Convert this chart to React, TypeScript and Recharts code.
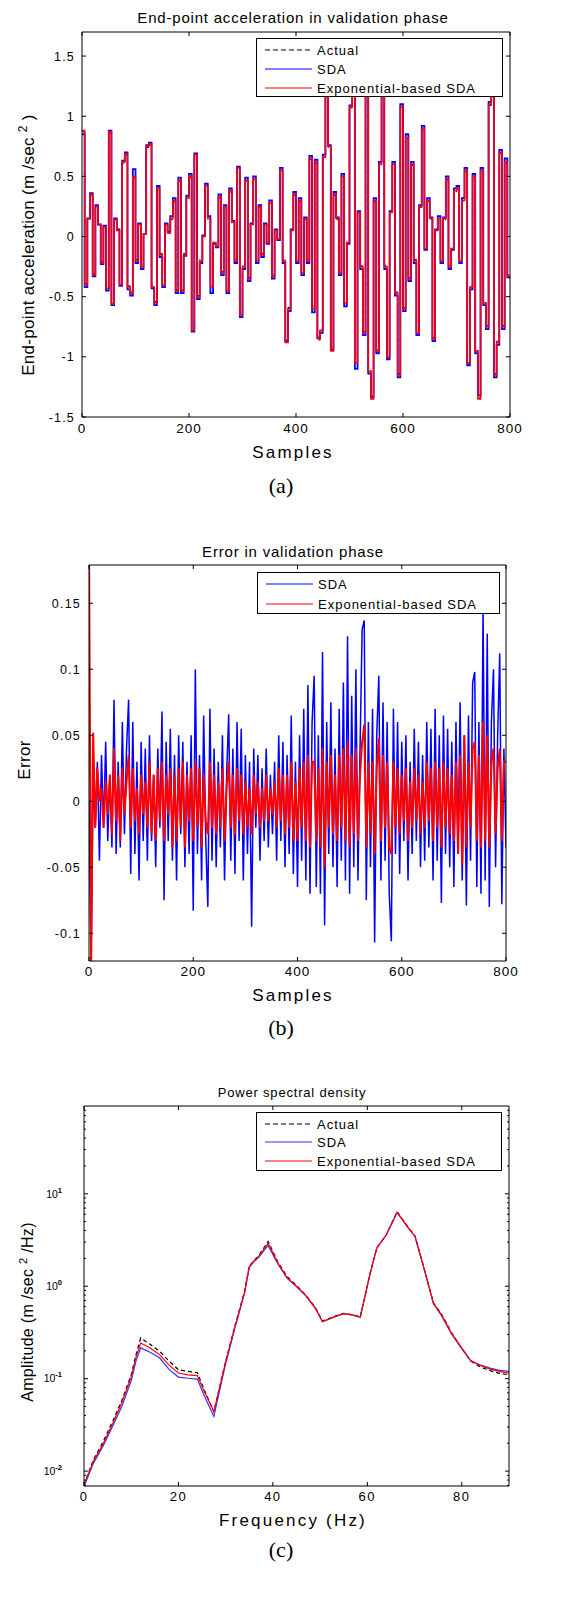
import React from 'react';
import { LineChart, Line, XAxis, YAxis } from 'recharts';

const FONT = '"Liberation Sans", Arial, Helvetica, sans-serif';
const SERIF = '"Liberation Serif", "Times New Roman", serif';

// ---------- Panel (a): end-point acceleration, one value every 5 samples ----------
const aSampleStep = 5;
const aActual = [
  0.87, -0.39, 0.14, 0.34, -0.31, 0.24, 0.1, -0.21, 0.08, -0.42,
  0.86, -0.55, 0.14, 0.05, -0.39, 0.61, 0.68, -0.41, -0.46, 0.49,
  -0.19, 0.1, -0.24, 0.02, 0.74, 0.76, -0.41, -0.54, 0.39, -0.14,
  -0.39, 0.1, 0.03, 0.14, 0.29, -0.44, 0.46, -0.44, -0.14, 0.31,
  0.49, -0.76, 0.67, -0.49, -0.19, 0.0, 0.41, 0.14, -0.41, -0.05,
  -0.08, 0.32, -0.29, 0.24, -0.44, 0.37, 0.12, -0.19, 0.56, -0.63,
  -0.24, 0.46, -0.34, 0.1, 0.47, -0.19, 0.24, -0.14, 0.1, -0.05,
  0.27, -0.32, 0.05, -0.02, 0.54, -0.19, -0.86, -0.59, 0.05, 0.34,
  -0.19, 0.29, -0.29, 0.14, -0.19, 0.64, -0.58, 0.61, -0.86, -0.77,
  0.65, 1.34, 0.74, -0.94, 0.34, 0.14, -0.29, 0.49, -0.54, -0.05,
  1.07, 1.29, -1.04, 0.2, -0.24, -0.79, 1.34, -1.11, -1.34, 0.29,
  -0.94, 0.59, 1.34, -0.24, -0.99, 0.2, 0.59, -0.46, -1.14, 1.07,
  -0.59, 0.81, -0.34, 0.59, -0.19, -0.79, 0.24, 0.89, -0.1, 0.29,
  0.14, -0.84, 0.05, 0.14, -0.19, 0.14, 0.47, -0.24, -0.1, 0.37,
  0.39, -0.19, 0.29, 0.54, -1.04, -0.41, 0.49, -0.94, -1.34, 0.54,
  -0.54, -0.74, 1.09, 1.29, -1.14, -0.87, 0.69, -0.74, 0.61, -0.32,
  -0.34,
];
const aSDA = [
  0.85, -0.42, 0.15, 0.36, -0.33, 0.26, 0.1, -0.23, 0.09, -0.45,
  0.88, -0.57, 0.15, 0.06, -0.41, 0.63, 0.7, -0.44, -0.49, 0.56,
  -0.22, 0.11, -0.27, 0.02, 0.76, 0.78, -0.43, -0.57, 0.42, -0.17,
  -0.42, 0.11, 0.04, 0.17, 0.32, -0.47, 0.49, -0.47, -0.16, 0.34,
  0.52, -0.79, 0.69, -0.52, -0.22, 0.01, 0.44, 0.17, -0.47, -0.06,
  -0.09, 0.35, -0.32, 0.26, -0.47, 0.4, 0.13, -0.22, 0.58, -0.67,
  -0.27, 0.49, -0.37, 0.11, 0.5, -0.22, 0.26, -0.17, 0.11, -0.06,
  0.3, -0.35, 0.06, -0.03, 0.57, -0.22, -0.87, -0.62, 0.06, 0.37,
  -0.22, 0.32, -0.32, 0.16, -0.22, 0.67, -0.63, 0.64, -0.84, -0.8,
  0.68, 1.33, 0.76, -0.94, 0.37, 0.16, -0.32, 0.52, -0.58, -0.06,
  1.09, 1.28, -1.1, 0.21, -0.27, -0.82, 1.33, -1.14, -1.33, 0.32,
  -0.97, 0.62, 1.33, -0.27, -1.02, 0.21, 0.62, -0.49, -1.17, 1.1,
  -0.62, 0.85, -0.37, 0.62, -0.22, -0.82, 0.26, 0.92, -0.11, 0.32,
  0.16, -0.87, 0.06, 0.17, -0.22, 0.16, 0.5, -0.27, -0.11, 0.4,
  0.42, -0.22, 0.32, 0.57, -1.07, -0.44, 0.52, -0.97, -1.32, 0.57,
  -0.57, -0.77, 1.12, 1.28, -1.17, -0.9, 0.72, -0.77, 0.65, -0.34,
  -0.35,
];
const aExp = [
  0.88, -0.4, 0.15, 0.35, -0.32, 0.25, 0.1, -0.22, 0.08, -0.43,
  0.87, -0.56, 0.14, 0.05, -0.4, 0.62, 0.69, -0.42, -0.47, 0.5,
  -0.2, 0.1, -0.25, 0.02, 0.75, 0.77, -0.42, -0.55, 0.4, -0.15,
  -0.4, 0.1, 0.03, 0.15, 0.3, -0.45, 0.47, -0.45, -0.15, 0.32,
  0.5, -0.78, 0.68, -0.5, -0.2, 0.0, 0.42, 0.15, -0.42, -0.05,
  -0.08, 0.33, -0.3, 0.25, -0.45, 0.38, 0.12, -0.2, 0.57, -0.65,
  -0.25, 0.47, -0.35, 0.1, 0.48, -0.2, 0.25, -0.15, 0.1, -0.05,
  0.28, -0.33, 0.05, -0.02, 0.55, -0.2, -0.88, -0.6, 0.05, 0.35,
  -0.2, 0.3, -0.3, 0.15, -0.2, 0.65, -0.6, 0.62, -0.85, -0.78,
  0.66, 1.35, 0.75, -0.95, 0.35, 0.15, -0.3, 0.5, -0.55, -0.05,
  1.08, 1.3, -1.05, 0.2, -0.25, -0.8, 1.35, -1.12, -1.35, 0.3,
  -0.95, 0.6, 1.35, -0.25, -1.0, 0.2, 0.6, -0.47, -1.15, 1.08,
  -0.6, 0.82, -0.35, 0.6, -0.2, -0.8, 0.25, 0.9, -0.1, 0.3,
  0.15, -0.85, 0.05, 0.15, -0.2, 0.15, 0.48, -0.25, -0.1, 0.38,
  0.4, -0.2, 0.3, 0.55, -1.05, -0.42, 0.5, -0.95, -1.35, 0.55,
  -0.55, -0.75, 1.1, 1.3, -1.15, -0.88, 0.7, -0.75, 0.62, -0.33,
  -0.35,
];
const aXTicks = [0, 200, 400, 600, 800];
const aYTicks = [-1.5, -1, -0.5, 0, 0.5, 1, 1.5];

// ---------- Panel (b): error, one value every 4 samples ----------
const bSampleStep = 4;
const bSDA = [
  0.0, -0.12, 0.02, -0.02, 0.03, -0.045, 0.035, -0.02, 0.045, -0.03,
  0.02, -0.035, 0.077, -0.04, 0.03, -0.035, 0.06, -0.025, 0.04, 0.077,
  -0.055, 0.06, -0.04, 0.03, -0.06, 0.045, -0.03, 0.04, -0.045, 0.05,
  -0.03, 0.02, -0.05, 0.04, -0.02, 0.068, -0.075, 0.045, -0.03, 0.055,
  -0.045, 0.035, -0.06, 0.05, -0.025, 0.045, -0.05, 0.03, -0.04, 0.05,
  -0.083, 0.1, -0.04, 0.035, -0.06, 0.065, -0.03, -0.08, 0.07, -0.045,
  0.04, -0.05, 0.03, -0.035, 0.05, -0.06, 0.02, 0.066, -0.045, 0.04,
  -0.055, 0.06, -0.03, 0.055, -0.06, 0.035, -0.04, 0.03, -0.095, 0.04,
  -0.02, 0.035, -0.045, 0.025, -0.03, 0.04, -0.035, 0.02, -0.025, 0.03,
  -0.045, 0.05, -0.03, 0.045, -0.05, 0.035, -0.04, 0.065, -0.055, 0.03,
  -0.065, 0.05, -0.045, 0.07, -0.06, 0.088, -0.07, 0.06, 0.095, -0.065,
  0.05, -0.07, 0.113, -0.094, 0.06, -0.04, 0.075, -0.05, 0.04, -0.065,
  0.07, -0.045, 0.09, -0.06, 0.125, -0.07, 0.08, -0.05, 0.1, -0.06,
  0.04, 0.13, 0.137, -0.075, 0.06, -0.05, 0.07, -0.107, 0.05, 0.095,
  -0.06, 0.075, -0.045, 0.06, -0.07, -0.106, 0.07, -0.04, 0.06, -0.055,
  0.045, -0.03, 0.05, -0.06, 0.03, -0.04, 0.055, -0.03, 0.045, -0.05,
  0.035, -0.045, 0.06, -0.035, 0.055, -0.06, 0.07, -0.045, 0.05, -0.077,
  0.065, -0.04, 0.055, -0.05, 0.045, -0.065, 0.06, -0.035, 0.075, -0.06,
  0.05, -0.079, 0.065, -0.045, 0.09, 0.098, -0.065, 0.06, -0.07, 0.145,
  -0.06, 0.127, -0.08, 0.06, 0.1, -0.05, 0.05, 0.112, -0.078, 0.04,
  -0.035,
];
const bExp = [
  0.2, -0.13, 0.052, -0.02, 0.025, 0.0, 0.01, -0.02, 0.015, -0.01,
  0.02, -0.025, 0.04, -0.015, 0.02, -0.03, 0.025, -0.01, 0.015, 0.035,
  -0.02, 0.025, -0.015, 0.01, -0.025, 0.02, -0.01, 0.015, -0.02, 0.03,
  -0.025, 0.02, -0.03, 0.025, -0.015, 0.03, -0.03, 0.02, -0.01, 0.025,
  -0.035, 0.02, -0.03, 0.025, -0.02, 0.03, -0.035, 0.02, -0.015, 0.025,
  -0.03, 0.03, -0.02, 0.025, -0.035, 0.02, -0.015, -0.025, 0.03, -0.02,
  0.02, -0.025, 0.015, -0.02, 0.025, -0.03, 0.01, 0.03, -0.02, 0.02,
  -0.025, 0.025, -0.015, 0.02, -0.025, 0.015, -0.02, 0.01, -0.025, 0.02,
  -0.01, 0.015, -0.02, 0.01, -0.015, 0.02, -0.015, 0.01, -0.01, 0.015,
  -0.02, 0.025, -0.015, 0.02, -0.025, 0.02, -0.02, 0.03, -0.03, 0.015,
  -0.03, 0.025, -0.02, 0.03, -0.03, 0.035, -0.035, 0.03, 0.03, -0.03,
  0.025, -0.035, 0.04, -0.05, 0.03, -0.02, 0.035, -0.025, 0.02, -0.03,
  0.035, -0.02, 0.04, -0.03, 0.045, -0.035, 0.035, -0.025, 0.04, -0.03,
  0.02, 0.045, 0.058, -0.035, 0.03, -0.025, 0.03, -0.04, 0.025, 0.048,
  -0.03, 0.035, -0.02, 0.03, -0.035, -0.04, 0.03, -0.02, 0.025, -0.025,
  0.02, -0.015, 0.025, -0.03, 0.015, -0.02, 0.025, -0.015, 0.02, -0.025,
  0.015, -0.02, 0.03, -0.015, 0.025, -0.03, 0.03, -0.02, 0.025, -0.035,
  0.03, -0.02, 0.025, -0.025, 0.02, -0.03, 0.03, -0.04, 0.035, -0.048,
  0.05, -0.035, 0.03, -0.02, 0.04, 0.045, -0.03, 0.035, -0.035, 0.06,
  -0.03, 0.05, -0.035, 0.03, 0.04, -0.025, 0.025, 0.04, -0.03, 0.03,
  0.03,
];
const bXTicks = [0, 200, 400, 600, 800];
const bYTicks = [-0.1, -0.05, 0, 0.05, 0.1, 0.15];

// ---------- Panel (c): power spectral density ----------
const cFreq = [
  0, 2, 4, 6, 8, 10, 11, 12, 14, 16, 18, 20, 22, 24, 25.5, 27.5, 30, 32, 34, 35,
  36, 37, 38, 39, 41, 43, 45, 47, 49, 50.5, 53, 55, 57, 58.5, 60.6, 62, 64, 66.3, 68.7, 70.1,
  71.9, 74, 75.7, 77.9, 79.8, 81.9, 83.8, 86, 88, 90,
];
const cActual = [
  0.0071, 0.0133, 0.0205, 0.034, 0.058, 0.11, 0.18, 0.275, 0.235, 0.198, 0.155, 0.125, 0.12, 0.116, 0.075, 0.044, 0.155, 0.38, 0.88, 1.65,
  1.9, 2.15, 2.55, 3.05, 1.85, 1.27, 1.02, 0.8, 0.59, 0.42, 0.47, 0.51, 0.49, 0.466, 1.39, 2.6, 3.6, 6.4, 4.3, 3.5,
  1.65, 0.66, 0.5, 0.31, 0.22, 0.155, 0.135, 0.122, 0.114, 0.11,
];
const cSDA = [
  0.0068, 0.0122, 0.0185, 0.03, 0.05, 0.095, 0.155, 0.215, 0.193, 0.168, 0.126, 0.104, 0.101, 0.099, 0.065, 0.039, 0.145, 0.36, 0.84, 1.6,
  1.85, 2.05, 2.4, 2.75, 1.76, 1.22, 0.99, 0.78, 0.575, 0.412, 0.465, 0.505, 0.487, 0.462, 1.38, 2.58, 3.58, 6.3, 4.25, 3.45,
  1.62, 0.65, 0.48, 0.3, 0.218, 0.155, 0.141, 0.13, 0.123, 0.12,
];
const cExp = [
  0.0071, 0.0128, 0.0195, 0.032, 0.055, 0.104, 0.17, 0.243, 0.215, 0.182, 0.14, 0.115, 0.11, 0.108, 0.072, 0.044, 0.152, 0.37, 0.86, 1.62,
  1.87, 2.1, 2.48, 2.92, 1.8, 1.24, 1.0, 0.79, 0.58, 0.415, 0.466, 0.505, 0.487, 0.462, 1.38, 2.58, 3.58, 6.3, 4.25, 3.45,
  1.63, 0.65, 0.49, 0.305, 0.222, 0.157, 0.14, 0.127, 0.12, 0.115,
];
const cXTicks = [0, 20, 40, 60, 80];
const cYMajor = [0.01, 0.1, 1, 10];
const cYMinorFactors = [2, 3, 4, 5, 6, 7, 8, 9];

// ---------- derived tables ----------
const aRows = aExp.map((v, i) => ({ s: i * aSampleStep, actual: aActual[i], sda: aSDA[i], exp: v }));
const bRows = bExp.map((v, i) => ({ s: i * bSampleStep, sda: bSDA[i], exp: v }));
const cRows = cFreq.map((f, i) => ({ f, actual: cActual[i], sda: cSDA[i], exp: cExp[i] }));
const cYDomain: [number, number] = [0.0069, 89];
const cYTicks: number[] = [];
[0.001, 0.01, 0.1, 1, 10].forEach((d) => {
  [1, ...cYMinorFactors].forEach((m) => {
    const v = +(d * m).toPrecision(3);
    if (v >= cYDomain[0] && v <= cYDomain[1]) cYTicks.push(v);
  });
});

type Side = 'left' | 'right' | 'top' | 'bottom';
interface TickOpts {
  len?: number;
  minorLen?: number;
  isMajor?: (v: number) => boolean;
  fmt?: (v: number) => React.ReactNode;
  fontSize?: number;
  gap?: number;
  ls?: number;
}
function tickRenderer(side: Side, o: TickOpts = {}) {
  return (props: any) => {
    const { x, y, payload } = props;
    const v = payload.value as number;
    const major = o.isMajor ? o.isMajor(v) : true;
    const len = major ? o.len ?? 4 : o.minorLen ?? 2;
    let c: number[];
    if (side === 'left') c = [x, y, x + len, y];
    else if (side === 'right') c = [x, y, x - len, y];
    else if (side === 'top') c = [x, y, x, y + len];
    else c = [x, y, x, y - len];
    const label = major && o.fmt ? o.fmt(v) : null;
    const fs = o.fontSize ?? 12;
    const gap = o.gap ?? 6;
    return (
      <g>
        <line x1={c[0]} y1={c[1]} x2={c[2]} y2={c[3]} stroke="#000" strokeWidth={1} />
        {label != null && side === 'left' && (
          <text x={x - gap} y={y} dy="0.36em" textAnchor="end" fontSize={fs} fontFamily={FONT} fill="#000" letterSpacing={o.ls ?? 0}>
            {label}
          </text>
        )}
        {label != null && side === 'bottom' && (
          <text x={x} y={y + gap} textAnchor="middle" fontSize={fs} fontFamily={FONT} fill="#000" letterSpacing={o.ls ?? 0}>
            {label}
          </text>
        )}
      </g>
    );
  };
}

const fmtNum = (v: number) => String(v);
const fmtPow = (v: number) => {
  const e = Math.round(Math.log10(v));
  return (
    <>
      <tspan>10</tspan>
      <tspan dy={-5} fontSize={7.5} fontWeight="bold">{String(e)}</tspan>
    </>
  );
};

const abs = (left: number, top: number, extra: React.CSSProperties = {}): React.CSSProperties => ({
  position: 'absolute',
  left,
  top,
  ...extra,
});

function CenterText(props: { x: number; y: number; size: number; ls?: number; family?: string; children: React.ReactNode }) {
  return (
    <div
      style={abs(props.x, props.y, {
        transform: 'translate(-50%, -50%)',
        whiteSpace: 'nowrap',
        fontFamily: props.family ?? FONT,
        fontSize: props.size,
        letterSpacing: props.ls ?? 0,
        lineHeight: 1,
        color: '#000',
      })}
    >
      {props.children}
    </div>
  );
}

function VerticalText(props: { x: number; y: number; size: number; ls?: number; children: React.ReactNode }) {
  return (
    <div
      style={abs(props.x, props.y, {
        transform: 'translate(-50%, -50%) rotate(-90deg)',
        whiteSpace: 'nowrap',
        fontFamily: FONT,
        fontSize: props.size,
        letterSpacing: props.ls ?? 0,
        lineHeight: 1,
        color: '#000',
      })}
    >
      {props.children}
    </div>
  );
}

interface LegendItem {
  label: string;
  color: string;
  dash?: string;
}
function LegendBox(props: { left: number; top: number; width: number; height: number; rows: number[]; items: LegendItem[] }) {
  return (
    <div style={abs(props.left, props.top, { width: props.width, height: props.height, border: '1px solid #000', background: '#fff', boxSizing: 'border-box' })}>
      {props.items.map((it, i) => (
        <React.Fragment key={it.label}>
          <svg style={abs(8, props.rows[i] - 3)} width={48} height={6}>
            <line x1={0} y1={3} x2={47} y2={3} stroke={it.color} strokeWidth={1.2} strokeDasharray={it.dash} />
          </svg>
          <div
            style={abs(60, props.rows[i], {
              transform: 'translateY(-50%)',
              fontFamily: FONT,
              fontSize: 13,
              letterSpacing: 1,
              lineHeight: 1,
              whiteSpace: 'nowrap',
            })}
          >
            {it.label}
          </div>
        </React.Fragment>
      ))}
    </div>
  );
}

const axisLine = { stroke: '#000', strokeWidth: 1 };

export default function App() {
  return (
    <div style={{ position: 'absolute', left: 0, top: 0, width: 567, height: 1600, background: '#fff', overflow: 'hidden' }}>
      {/* ---------------- Panel (a) ---------------- */}
      <div style={abs(0, 0)}>
        <LineChart width={567} height={440} data={aRows} margin={{ top: 22, right: 47, bottom: 3, left: 32 }}>
          <XAxis dataKey="s" type="number" domain={[0, 800]} ticks={aXTicks} allowDataOverflow interval={0} height={20}
            axisLine={axisLine} tickLine={false} tickSize={0} tickMargin={0}
            tick={tickRenderer('bottom', { fmt: fmtNum, fontSize: 13.5, gap: 16, ls: 1 })} />
          <XAxis xAxisId="t" orientation="top" dataKey="s" type="number" domain={[0, 800]} ticks={aXTicks} allowDataOverflow interval={0} height={10}
            axisLine={axisLine} tickLine={false} tickSize={0} tickMargin={0} tick={tickRenderer('top')} />
          <YAxis type="number" domain={[-1.5, 1.7]} ticks={aYTicks} allowDataOverflow interval={0} width={50}
            axisLine={axisLine} tickLine={false} tickSize={0} tickMargin={0}
            tick={tickRenderer('left', { fmt: fmtNum, fontSize: 12.5, gap: 7, ls: 1.2 })} />
          <YAxis yAxisId="r" orientation="right" type="number" domain={[-1.5, 1.7]} ticks={aYTicks} allowDataOverflow interval={0} width={10}
            axisLine={axisLine} tickLine={false} tickSize={0} tickMargin={0} tick={tickRenderer('right')} />
          <Line type="stepAfter" dataKey="actual" stroke="#000" strokeWidth={1} strokeDasharray="4 3" dot={false} isAnimationActive={false} />
          <Line type="stepAfter" dataKey="sda" stroke="#0000ff" strokeWidth={1.8} dot={false} isAnimationActive={false} />
          <Line type="stepAfter" dataKey="exp" stroke="#ff0000" strokeWidth={1.6} dot={false} isAnimationActive={false} />
        </LineChart>
      </div>
      <CenterText x={293} y={17} size={15} ls={0.8}>End-point acceleration in validation phase</CenterText>
      <VerticalText x={27} y={245} size={17} ls={0.3}>
        End-point acceleration (m /sec <sup style={{ fontSize: 12 }}>2</sup> )
      </VerticalText>
      <CenterText x={293} y={452} size={17} ls={2.2}>Samples</CenterText>
      <CenterText x={281} y={486} size={22} family={SERIF}>(a)</CenterText>
      <LegendBox left={256} top={38} width={247} height={59} rows={[11, 30, 49]}
        items={[
          { label: 'Actual', color: '#000', dash: '5 3' },
          { label: 'SDA', color: '#0000ff' },
          { label: 'Exponential-based SDA', color: '#ff0000' },
        ]} />

      {/* ---------------- Panel (b) ---------------- */}
      <div style={abs(0, 540)}>
        <LineChart width={567} height={445} data={bRows} margin={{ top: 15, right: 51, bottom: 4, left: 39 }}>
          <XAxis dataKey="s" type="number" domain={[0, 800]} ticks={bXTicks} allowDataOverflow interval={0} height={20}
            axisLine={axisLine} tickLine={false} tickSize={0} tickMargin={0}
            tick={tickRenderer('bottom', { fmt: fmtNum, fontSize: 13.5, gap: 15, ls: 1 })} />
          <XAxis xAxisId="t" orientation="top" dataKey="s" type="number" domain={[0, 800]} ticks={bXTicks} allowDataOverflow interval={0} height={10}
            axisLine={axisLine} tickLine={false} tickSize={0} tickMargin={0} tick={tickRenderer('top')} />
          <YAxis type="number" domain={[-0.121, 0.179]} ticks={bYTicks} allowDataOverflow interval={0} width={50}
            axisLine={axisLine} tickLine={false} tickSize={0} tickMargin={0}
            tick={tickRenderer('left', { fmt: fmtNum, fontSize: 12.5, gap: 8, ls: 1.2 })} />
          <YAxis yAxisId="r" orientation="right" type="number" domain={[-0.121, 0.179]} ticks={bYTicks} allowDataOverflow interval={0} width={10}
            axisLine={axisLine} tickLine={false} tickSize={0} tickMargin={0} tick={tickRenderer('right')} />
          <Line type="linear" dataKey="sda" stroke="#0000ff" strokeWidth={1.5} dot={false} isAnimationActive={false} />
          <Line type="linear" dataKey="exp" stroke="#ff0000" strokeWidth={2} dot={false} isAnimationActive={false} />
        </LineChart>
      </div>
      <CenterText x={293} y={551} size={15} ls={0.8}>Error in validation phase</CenterText>
      <VerticalText x={24} y={760} size={17} ls={0.3}>Error</VerticalText>
      <CenterText x={293} y={995} size={17} ls={2.2}>Samples</CenterText>
      <CenterText x={281} y={1028} size={22} family={SERIF}>(b)</CenterText>
      <LegendBox left={257} top={572} width={243} height={42} rows={[11, 31]}
        items={[
          { label: 'SDA', color: '#0000ff' },
          { label: 'Exponential-based SDA', color: '#ff0000' },
        ]} />

      {/* ---------------- Panel (c) ---------------- */}
      <div style={abs(0, 1080)}>
        <LineChart width={567} height={440} data={cRows} margin={{ top: 16, right: 48, bottom: 14, left: 34 }}>
          <XAxis dataKey="f" type="number" domain={[0, 90]} ticks={cXTicks} allowDataOverflow interval={0} height={20}
            axisLine={axisLine} tickLine={false} tickSize={0} tickMargin={0}
            tick={tickRenderer('bottom', { fmt: fmtNum, fontSize: 13, gap: 15, ls: 1.5 })} />
          <XAxis xAxisId="t" orientation="top" dataKey="f" type="number" domain={[0, 90]} ticks={cXTicks} allowDataOverflow interval={0} height={10}
            axisLine={axisLine} tickLine={false} tickSize={0} tickMargin={0} tick={tickRenderer('top')} />
          <YAxis type="number" scale="log" domain={cYDomain} ticks={cYTicks} allowDataOverflow interval={0} width={50}
            axisLine={axisLine} tickLine={false} tickSize={0} tickMargin={0}
            tick={tickRenderer('left', { fmt: fmtPow, fontSize: 10.5, gap: 22, len: 4, minorLen: 2, isMajor: (v) => cYMajor.includes(v) })} />
          <YAxis yAxisId="r" orientation="right" type="number" scale="log" domain={cYDomain} ticks={cYTicks} allowDataOverflow interval={0} width={10}
            axisLine={axisLine} tickLine={false} tickSize={0} tickMargin={0}
            tick={tickRenderer('right', { len: 4, minorLen: 2, isMajor: (v) => cYMajor.includes(v) })} />
          <Line type="linear" dataKey="actual" stroke="#000" strokeWidth={1.2} strokeDasharray="4 3" dot={false} isAnimationActive={false} />
          <Line type="linear" dataKey="sda" stroke="#3333ff" strokeWidth={1.2} dot={false} isAnimationActive={false} />
          <Line type="linear" dataKey="exp" stroke="#ff0000" strokeWidth={1.2} dot={false} isAnimationActive={false} />
        </LineChart>
      </div>
      <CenterText x={292} y={1092} size={13} ls={0.8}>Power spectral density</CenterText>
      <VerticalText x={27} y={1312} size={16} ls={0.3}>
        Amplitude (m /sec <sup style={{ fontSize: 11 }}>2</sup> /Hz)
      </VerticalText>
      <CenterText x={293} y={1520} size={17} ls={2.2}>Frequency (Hz)</CenterText>
      <CenterText x={281} y={1550} size={22} family={SERIF}>(c)</CenterText>
      <LegendBox left={256} top={1112} width={246} height={59} rows={[11, 29, 48]}
        items={[
          { label: 'Actual', color: '#000', dash: '5 3' },
          { label: 'SDA', color: '#3333ff' },
          { label: 'Exponential-based SDA', color: '#ff0000' },
        ]} />
    </div>
  );
}
